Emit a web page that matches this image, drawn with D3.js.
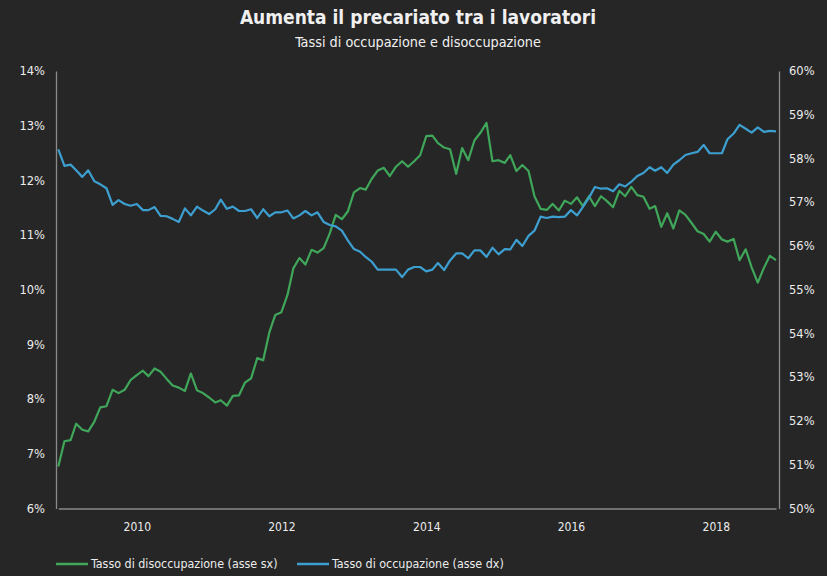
<!DOCTYPE html>
<html>
<head>
<meta charset="utf-8">
<script src="https://cdn.jsdelivr.net/npm/d3@7"></script>
<style>
  body { margin: 0; background: #262626; }
  svg { display: block; }
</style>
</head>
<body>
<svg id="chart" width="827" height="576"></svg>
<script>
// mesi: dic 2008 - nov 2018
var primoMese = new Date(2008, 11, 1);
var ultimoMese = new Date(2018, 10, 1);

// tasso di disoccupazione (asse sx)
var disoccupazione = [
  6.77, 7.23, 7.25, 7.55, 7.44, 7.41, 7.59, 7.85, 7.87, 8.17,
  8.11, 8.17, 8.35, 8.44, 8.52, 8.42, 8.56, 8.50, 8.37, 8.25,
  8.21, 8.15, 8.47, 8.16, 8.11, 8.03, 7.94, 7.98, 7.88, 8.06,
  8.07, 8.30, 8.38, 8.75, 8.71, 9.22, 9.54, 9.59, 9.91, 10.39,
  10.58, 10.46, 10.73, 10.68, 10.76, 11.03, 11.37, 11.29, 11.43, 11.78,
  11.86, 11.83, 12.03, 12.18, 12.23, 12.08, 12.25, 12.35, 12.25, 12.35,
  12.46, 12.81, 12.82, 12.68, 12.60, 12.57, 12.12, 12.59, 12.37, 12.73,
  12.87, 13.05, 12.35, 12.37, 12.32, 12.46, 12.17, 12.28, 12.17, 11.71,
  11.48, 11.46, 11.57, 11.45, 11.63, 11.57, 11.69, 11.53, 11.71, 11.53,
  11.71, 11.62, 11.51, 11.81, 11.71, 11.88, 11.73, 11.70, 11.48, 11.53,
  11.15, 11.40, 11.12, 11.45, 11.37, 11.22, 11.07, 11.02, 10.88, 11.06,
  10.92, 10.88, 10.93, 10.54, 10.74, 10.41, 10.13, 10.40, 10.62, 10.54
];

// tasso di occupazione (asse dx)
var occupazione = [
  58.21, 57.83, 57.86, 57.73, 57.58, 57.73, 57.48, 57.41, 57.32, 56.94,
  57.05, 56.96, 56.92, 56.96, 56.82, 56.82, 56.89, 56.69, 56.68, 56.62,
  56.55, 56.86, 56.70, 56.90, 56.81, 56.73, 56.84, 57.06, 56.85, 56.90,
  56.80, 56.80, 56.84, 56.64, 56.84, 56.68, 56.77, 56.77, 56.81, 56.63,
  56.70, 56.80, 56.70, 56.77, 56.55, 56.48, 56.45, 56.35, 56.13, 55.93,
  55.87, 55.75, 55.64, 55.46, 55.46, 55.46, 55.46, 55.29, 55.46, 55.52,
  55.52, 55.42, 55.46, 55.61, 55.45, 55.67, 55.83, 55.83, 55.72, 55.90,
  55.90, 55.75, 55.96, 55.81, 55.93, 55.92, 56.14, 56.00, 56.23, 56.35,
  56.67, 56.64, 56.67, 56.66, 56.67, 56.82, 56.70, 56.89, 57.10, 57.35,
  57.31, 57.32, 57.25, 57.41, 57.36, 57.47, 57.60, 57.67, 57.80, 57.72,
  57.80, 57.67, 57.86, 57.96, 58.08, 58.12, 58.15, 58.31, 58.12, 58.12,
  58.12, 58.44, 58.57, 58.77, 58.68, 58.59, 58.71, 58.61, 58.63, 58.62
];

var tickSx = [6, 7, 8, 9, 10, 11, 12, 13, 14];
var tickDx = [50, 51, 52, 53, 54, 55, 56, 57, 58, 59, 60];
var anniTick = [2010, 2012, 2014, 2016, 2018];

var nomiSerie = ["Tasso di disoccupazione (asse sx)", "Tasso di occupazione (asse dx)"];
var coloriSerie = ["#3fa65a", "#3d9fd0"];

var mesi = d3.timeMonth.range(primoMese, d3.timeMonth.offset(ultimoMese, 1));

var svg = d3.select("#chart"),
    margin = {top: 71, right: 48, bottom: 67.5, left: 56},
    width = +svg.attr("width") - margin.left - margin.right,
    height = +svg.attr("height") - margin.top - margin.bottom;

var g = svg.append("g").attr("transform", "translate(" + margin.left + "," + margin.top + ")");

var x = d3.scaleTime()
    .domain([primoMese, ultimoMese])
    .range([2.3, width - 3]);

var ySx = d3.scaleLinear().domain([6, 14]).range([height, 0]);
var yDx = d3.scaleLinear().domain([50, 60]).range([height, 0]);

var fontCondensed = "'DejaVu Sans Condensed', 'DejaVu Sans', sans-serif";

svg.append("text")
    .attr("x", 418).attr("y", 24)
    .attr("text-anchor", "middle")
    .style("font-family", fontCondensed)
    .style("font-weight", "bold")
    .style("font-size", "19px")
    .style("fill", "#f0f0f0")
    .text("Aumenta il precariato tra i lavoratori");

svg.append("text")
    .attr("x", 418).attr("y", 47)
    .attr("text-anchor", "middle")
    .style("font-family", fontCondensed)
    .style("font-size", "14.3px")
    .style("fill", "#f0f0f0")
    .text("Tassi di occupazione e disoccupazione");

// assi
var asseX = g.append("g")
    .attr("transform", "translate(0," + height + ")")
    .call(d3.axisBottom(x)
        .tickValues(anniTick.map(function(a) { return new Date(a, 0, 1); }))
        .tickFormat(d3.timeFormat("%Y"))
        .tickSize(0)
        .tickPadding(14));
asseX.selectAll("text")
    .style("font-family", fontCondensed)
    .style("font-size", "12px");

var asseSx = g.append("g")
    .call(d3.axisLeft(ySx)
        .tickValues(tickSx)
        .tickFormat(function(d) { return d + "%"; })
        .tickSize(0)
        .tickPadding(11));

var asseDx = g.append("g")
    .attr("transform", "translate(" + width + ",0)")
    .call(d3.axisRight(yDx)
        .tickValues(tickDx)
        .tickFormat(function(d) { return d + "%"; })
        .tickSize(0)
        .tickPadding(10));

[asseSx, asseDx].forEach(function(a) {
    a.selectAll("text")
        .style("font-family", "'DejaVu Sans', Verdana, sans-serif")
        .style("font-size", "11.5px");
});

[asseX, asseSx, asseDx].forEach(function(a) {
    a.select(".domain").attr("stroke", "#8a8a8a").attr("stroke-width", 1.3);
    a.selectAll("text").style("fill", "#ececec");
});

// linee
var lineaSx = d3.line()
    .x(function(d, i) { return x(mesi[i]); })
    .y(function(d) { return ySx(d); });

var lineaDx = d3.line()
    .x(function(d, i) { return x(mesi[i]); })
    .y(function(d) { return yDx(d); });

g.append("path")
    .datum(disoccupazione)
    .attr("fill", "none")
    .attr("stroke", coloriSerie[0])
    .attr("stroke-width", 2.2)
    .attr("stroke-linejoin", "round")
    .attr("d", lineaSx);

g.append("path")
    .datum(occupazione)
    .attr("fill", "none")
    .attr("stroke", coloriSerie[1])
    .attr("stroke-width", 2.2)
    .attr("stroke-linejoin", "round")
    .attr("d", lineaDx);

// legenda
var legenda = svg.append("g").attr("transform", "translate(56,564)");
var posLegenda = [0, 241];
nomiSerie.forEach(function(nome, i) {
    var item = legenda.append("g").attr("transform", "translate(" + posLegenda[i] + ",0)");
    item.append("line")
        .attr("x1", 0).attr("x2", 32)
        .attr("y1", 0).attr("y2", 0)
        .attr("stroke", coloriSerie[i])
        .attr("stroke-width", 2.5);
    item.append("text")
        .attr("x", 35).attr("y", 4)
        .style("font-family", fontCondensed)
        .style("font-size", "12.4px")
        .style("fill", "#ececec")
        .text(nome);
});
</script>
</body>
</html>
